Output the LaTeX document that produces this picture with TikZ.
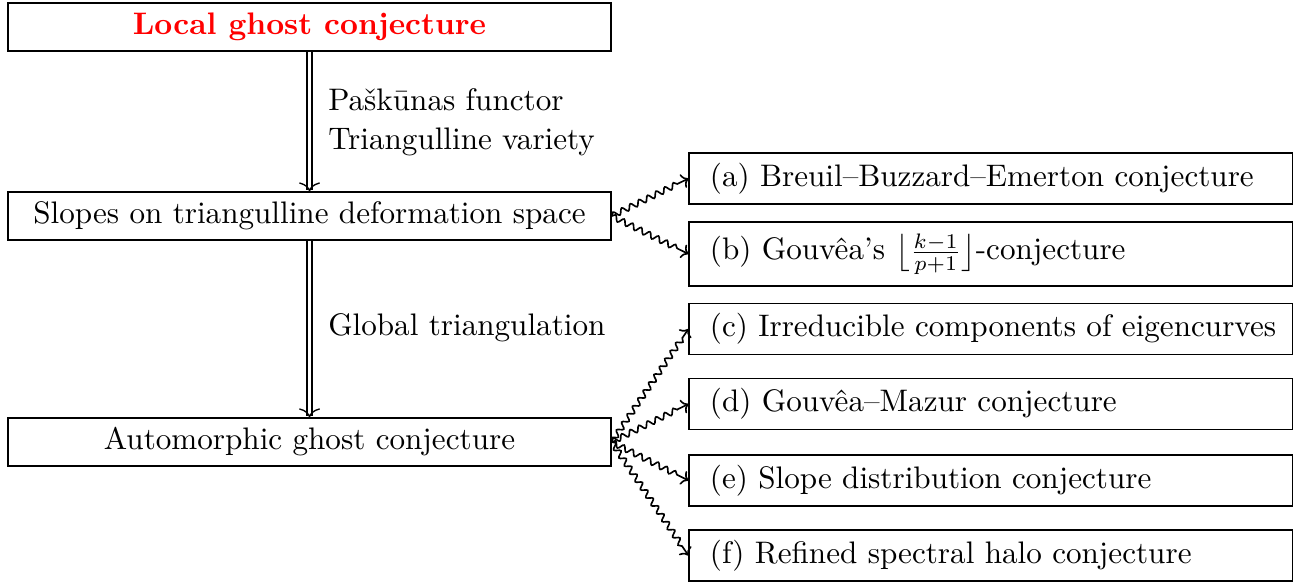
\documentclass[tikz,border=0pt]{standalone}
\usepackage{amsmath}
\usepackage{amssymb}
\usepackage{fontspec}
\usepackage{xcolor}
\usetikzlibrary{decorations.pathmorphing}
\usetikzlibrary{arrows.meta}
\tikzset{leftbox/.style={draw,minimum width=7.08cm,minimum height=0.564cm,inner sep=2pt},
 rightbox/.style={draw,minimum height=0.6cm,text width=7.08cm,align=left,inner xsep=0pt,inner ysep=2pt,
   execute at begin node=\hspace*{0.245cm}},
 implies/.style={double,double distance=1.3pt,-{To[line width=0.45pt,length=3pt,width=7pt]}},
 squig/.style={line width=0.55pt,-{To[length=2.2pt,width=5pt]},decorate,decoration={snake,amplitude=0.95pt,segment length=3.2pt,post length=3pt}},
 }

\begin{document}
\begin{tikzpicture}[font=\fontsize{10.4pt}{13pt}\selectfont]
        \useasboundingbox (0,0) rectangle (15.31,-6.857);
        % left column
        \node[leftbox] (local) at (3.634,-0.317) {\textcolor{red}{\textbf{Local ghost conjecture}}};
        \node[leftbox] (slopes) at (3.634,-2.536) {Slopes on triangulline deformation space};
        \node[leftbox] (auto) at (3.634,-5.189) {Automorphic ghost conjecture};
        % right column
        \node[rightbox] (bbe) at (11.63,-2.096) {(a) Breuil--Buzzard--Emerton conjecture};
        \node[rightbox,minimum height=0.75cm] (gouv) at (11.63,-2.982) {(b) Gouv\^ea's $\bigl\lfloor\frac{k-1}{p+1}\bigr\rfloor$-conjecture};
        \node[rightbox] (irred) at (11.63,-3.862) {(c) Irreducible components of eigencurves};
        \node[rightbox] (gm) at (11.63,-4.743) {(d) Gouv\^ea--Mazur conjecture};
        \node[rightbox] (dist) at (11.63,-5.641) {(e) Slope distribution conjecture};
        \node[rightbox] (halo) at (11.63,-6.522) {(f) Refined spectral halo conjecture};
        % labels
        \node[anchor=west,align=left] (lab1) at (3.73,-1.43) {Pa\v{s}k\={u}nas functor\\Triangulline variety};
        \node[anchor=west] (lab2) at (3.73,-3.851) {Global triangulation};
        % arrows
        \draw[implies] (local) -- (slopes);
        \draw[implies] (slopes) -- (auto);
        \foreach \t in {bbe,gouv}
            \draw[squig] (slopes.east) -- (\t.west);
        \foreach \t in {irred,gm,dist,halo}
            \draw[squig] (auto.east) -- (\t.west);
    \end{tikzpicture}
\end{document}
